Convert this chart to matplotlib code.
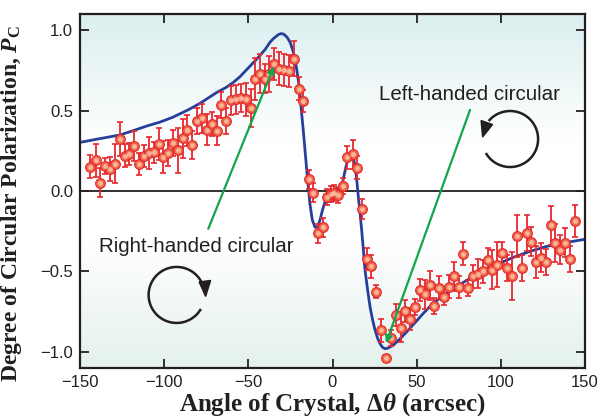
import matplotlib
matplotlib.use("Agg")
import matplotlib.pyplot as plt
import numpy as np
from matplotlib.patches import Polygon

# measured polarization (angle in arcsec, Pc, error)
angle = [-143.9, -140.7, -138.1, -135.2, -132.2, -129.0, -126.4, -123.5, -120.7, -117.8,
         -114.8, -112.0, -109.0, -106.2, -103.3, -100.5, -97.6, -94.6, -91.8, -89.0,
         -86.3, -83.3, -80.7, -77.5, -74.8, -71.8, -68.8, -66.1, -63.1, -60.5,
         -57.5, -54.5, -51.6, -48.6, -46.0, -43.1, -40.3, -37.6, -34.6, -31.6,
         -28.8, -25.8, -22.9, -19.7, -17.3, -14.2, -11.4, -8.4, -5.5, -3.1,
         -1.0, 1.0, 3.1, 6.1, 8.6, 11.9, 14.8, 17.3, 20.3, 23.1,
         26.0, 29.0, 31.8, 34.8, 37.5, 40.5, 43.3, 46.2, 49.0, 52.0,
         54.8, 57.7, 60.5, 63.5, 66.4, 69.2, 72.0, 75.0, 77.7, 80.7,
         83.5, 86.5, 89.2, 92.2, 94.9, 97.9, 100.9, 103.7, 106.7, 109.4,
         112.4, 115.4, 118.1, 120.9, 123.9, 126.7, 129.6, 132.4, 135.2, 138.1,
         141.1, 143.9]
pol = [0.152, 0.190, 0.050, 0.156, 0.136, 0.169, 0.323, 0.219, 0.229, 0.279,
       0.169, 0.217, 0.234, 0.240, 0.292, 0.213, 0.234, 0.298, 0.252, 0.327,
       0.377, 0.286, 0.434, 0.452, 0.381, 0.415, 0.373, 0.536, 0.436, 0.563,
       0.569, 0.578, 0.569, 0.515, 0.698, 0.729, 0.698, 0.728, 0.788, 0.761,
       0.750, 0.746, 0.823, 0.636, 0.559, 0.072, -0.010, -0.264, -0.225, -0.040,
       -0.020, -0.010, -0.025, 0.031, 0.209, 0.227, 0.146, -0.112, -0.423, -0.468,
       -0.625, -0.866, -1.038, -0.916, -0.771, -0.850, -0.746, -0.796, -0.723, -0.614,
       -0.641, -0.587, -0.714, -0.600, -0.656, -0.594, -0.531, -0.598, -0.389, -0.604,
       -0.531, -0.514, -0.500, -0.427, -0.489, -0.458, -0.385, -0.479, -0.527, -0.281,
       -0.479, -0.260, -0.316, -0.441, -0.416, -0.441, -0.213, -0.323, -0.365, -0.323,
       -0.421, -0.188]
err = [0.07, 0.10, 0.09, 0.05, 0.075, 0.12, 0.105, 0.07, 0.07, 0.095,
       0.07, 0.07, 0.10, 0.065, 0.10, 0.10, 0.08, 0.08, 0.14, 0.12,
       0.095, 0.085, 0.08, 0.09, 0.095, 0.075, 0.09, 0.08, 0.08, 0.09,
       0.09, 0.09, 0.10, 0.12, 0.13, 0.12, 0.09, 0.11, 0.10, 0.10,
       0.10, 0.10, 0.11, 0.07, 0.07, 0.06, 0.06, 0.06, 0.06, 0.05,
       0.05, 0.05, 0.05, 0.05, 0.07, 0.09, 0.07, 0.06, 0.07, 0.07,
       0.04, 0.07, 0.02, 0.05, 0.07, 0.09, 0.07, 0.07, 0.05, 0.07,
       0.09, 0.09, 0.05, 0.07, 0.05, 0.07, 0.09, 0.07, 0.07, 0.05,
       0.07, 0.09, 0.07, 0.07, 0.12, 0.14, 0.07, 0.08, 0.15, 0.13,
       0.08, 0.11, 0.09, 0.10, 0.09, 0.08, 0.12, 0.12, 0.09, 0.09,
       0.08, 0.10]

# theoretical curve
curve_x = [-150, -140, -126.3, -118.4, -110, -102.5, -95, -88.6, -84.7, -78.7,
           -72.8, -68.8, -63, -58.9, -55, -50, -45, -40, -37.1, -35,
           -32.2, -30.5, -29, -26.9, -25, -23.3, -21.8, -20.3, -19.3, -18.3,
           -17.3, -16.3, -15.3, -14.3, -13.4, -12, -10.4, -9, -7.4, -6,
           -4.5, -3.5, -2.5, -1.5, -0.5, 0.5, 1.5, 2.5, 3.5, 4.5,
           5.5, 6.4, 8, 9.4, 10.5, 11.4, 12.4, 13.4, 14.4, 15.3,
           16.3, 17.3, 18.3, 19.3, 20.8, 22.3, 23.8, 25.3, 26.8, 28.2,
           29.7, 31.2, 32.5, 34.2, 36.1, 40, 44.1, 48, 54, 60,
           67.9, 75, 83.7, 90, 99.5, 108, 117.4, 127, 137.1, 150]
curve_y = [0.302, 0.322, 0.348, 0.375, 0.405, 0.428, 0.458, 0.49, 0.51, 0.545,
           0.585, 0.612, 0.645, 0.675, 0.71, 0.765, 0.82, 0.88, 0.925, 0.948,
           0.972, 0.978, 0.975, 0.955, 0.92, 0.865, 0.79, 0.69, 0.6, 0.48,
           0.37, 0.25, 0.13, 0.02, -0.08, -0.18, -0.225, -0.225, -0.18, -0.12,
           -0.07, -0.02, -0.06, 0.0, -0.05, 0.0, -0.04, 0.015, -0.02, 0.04,
           0.02, 0.075, 0.15, 0.205, 0.225, 0.228, 0.205, 0.156, 0.07, -0.031,
           -0.13, -0.24, -0.36, -0.49, -0.61, -0.72, -0.80, -0.865, -0.915, -0.948,
           -0.972, -0.98, -0.978, -0.969, -0.958, -0.92, -0.875, -0.83, -0.76, -0.695,
           -0.635, -0.585, -0.531, -0.495, -0.448, -0.41, -0.375, -0.345, -0.323, -0.30]

xticks = [-150, -100, -50, 0, 50, 100, 150]
yticks = [-1.0, -0.5, 0.0, 0.5, 1.0]

plt.rcParams['font.family'] = ['Liberation Sans', 'DejaVu Sans']
plt.rcParams['mathtext.fontset'] = 'custom'
plt.rcParams['mathtext.rm'] = 'Liberation Serif:bold'
plt.rcParams['mathtext.it'] = 'Liberation Serif:bold:italic'
plt.rcParams['mathtext.bf'] = 'Liberation Serif:bold'

dark = '#231f20'
red = '#e8262f'
green = '#13a54a'

W, H = 598, 419
fig = plt.figure(figsize=(W / 100, H / 100), dpi=100)
l, r, b, t = 80 / W, 585 / W, 1 - 368 / H, 1 - 14 / H
ax = fig.add_axes([l, b, r - l, t - b])
XMIN, XMAX, YMIN, YMAX = -150, 150, -1.1, 1.1
px_x = (r - l) * W / (XMAX - XMIN)   # pixels per x unit
px_y = (t - b) * H / (YMAX - YMIN)   # pixels per y unit

# background gradient
ys = np.linspace(YMAX, YMIN, 200)
top_c = np.array([0.86, 0.935, 0.935])
bot_c = np.array([0.895, 0.945, 0.925])
grad = np.ones((200, 1, 3))
for i, yv in enumerate(ys):
    if yv > 0.3:
        f = (yv - 0.3) / 0.8
        grad[i, 0] = 1 - f * (1 - top_c)
    elif yv < -0.3:
        f = (-0.3 - yv) / 0.8
        grad[i, 0] = 1 - f * (1 - bot_c)
ax.imshow(grad, extent=[XMIN, XMAX, YMIN, YMAX], aspect='auto', zorder=0)

ax.axhline(0, color=dark, lw=1.3, zorder=1)

ax.plot(curve_x, curve_y, color='#263f9b', lw=2.0, zorder=3)

ax.errorbar(angle, pol, yerr=err, fmt='none', ecolor=red, elinewidth=1.3,
            capsize=2.5, capthick=1.2, zorder=4)
ax.plot(angle, pol, 'o', ms=7.0, mfc='#f06a4e', mec='#e3262b', mew=0.8, zorder=5)
ax.plot(angle, pol, 'o', ms=3.5, mfc='#fbbda2', mec='none', alpha=0.9, zorder=6)

# annotation arrows
ax.annotate('', xy=(-34.8, 0.775), xytext=(-73.8, -0.235),
            arrowprops=dict(arrowstyle='-|>', color=green, lw=1.6,
                            mutation_scale=10, shrinkA=0, shrinkB=0), zorder=7)
ax.annotate('', xy=(31.8, -0.945), xytext=(81.7, 0.504),
            arrowprops=dict(arrowstyle='-|>', color=green, lw=1.6,
                            mutation_scale=10, shrinkA=0, shrinkB=0), zorder=7)

ax.text(-80.8, -0.344, 'Right-handed circular', fontsize=14.8, color=dark,
        ha='center', va='center', zorder=8)
ax.text(81.2, 0.598, 'Left-handed circular', fontsize=14.8, color=dark,
        ha='center', va='center', zorder=8)


def rotation_symbol(cx, cy, a0, a1, head):
    """open circle (pixel radius 28) plus a filled arrowhead given in pixel offsets"""
    a = np.radians(np.linspace(a0, a1, 120))
    ax.plot(cx + 28 * np.cos(a) / px_x, cy + 28 * np.sin(a) / px_y,
            color=dark, lw=1.8, zorder=8, solid_capstyle='butt')
    pts = [(cx + hx / px_x, cy + hy / px_y) for hx, hy in head]
    ax.add_patch(Polygon(pts, closed=True, color=dark, zorder=8))


rotation_symbol(-92.6, -0.646, 28, 330, [(22.5, 13), (34, 14.5), (29, -1.5)])
rotation_symbol(105.5, 0.323, -150, 140, [(-17.5, 14.5), (-29, 18.5), (-27.5, 2.0)])

ax.set_xlim(XMIN, XMAX)
ax.set_ylim(YMIN, YMAX)
ax.set_xticks(xticks)
ax.set_yticks(yticks)
ax.set_xticklabels([f'{v:d}'.replace('-', '\u2212') for v in xticks])
ax.set_yticklabels([f'{v:.1f}'.replace('-', '\u2212') for v in yticks])
ax.tick_params(direction='in', length=6.5, width=1.3, colors=dark,
               labelsize=12, top=True, right=True, pad=5)
for sp in ax.spines.values():
    sp.set_linewidth(1.6)
    sp.set_color(dark)
    sp.set_zorder(9)

ax.set_xlabel(r'Angle of Crystal, $\mathit{\Delta\theta}$ (arcsec)', family='Liberation Serif',
              fontweight='bold', fontsize=18, color=dark, labelpad=1)
ax.set_ylabel(r'Degree of Circular Polarization, $P_{\mathrm{C}}$', family='Liberation Serif',
              fontweight='bold', fontsize=17, color=dark)
ax.yaxis.set_label_coords(-0.11, 0.465)

fig.savefig('out.png', dpi=100)
